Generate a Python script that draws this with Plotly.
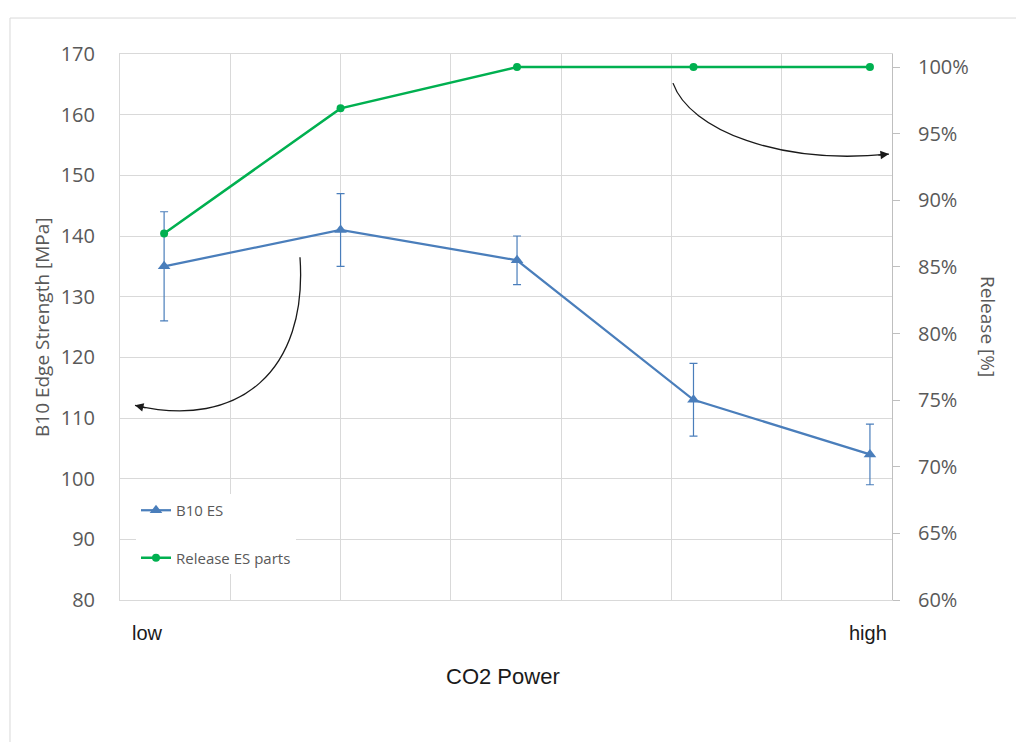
import plotly.graph_objects as go

# ---------------- data ----------------
x_pos = [0.4, 2.0, 3.6, 5.2, 6.8]          # CO2 power settings (low -> high)
b10_es = [135, 141, 136, 113, 104]          # B10 edge strength [MPa]
b10_err = [9, 6, 4, 6, 5]                   # error bar half-length [MPa]
release = [0.875, 0.969, 1.0, 1.0, 1.0]     # release ES parts [fraction]
end_labels = ["low", "high"]
end_label_x = [0.25, 6.78]

left_ticks = list(range(80, 171, 10))
right_ticks = [0.60, 0.65, 0.70, 0.75, 0.80, 0.85, 0.90, 0.95, 1.00]

BLUE = "#4a7ebb"
GREEN = "#00b050"
GRID = "#d9d9d9"
TICKC = "#595959"
FONT = "Open Sans"

fig = go.Figure()

fig.add_trace(go.Scatter(
    x=x_pos, y=b10_es, name="B10 ES", mode="lines+markers",
    line=dict(color=BLUE, width=2.25),
    marker=dict(symbol="triangle-up", size=11, color=BLUE),
    error_y=dict(type="data", array=b10_err, visible=True, color=BLUE,
                 thickness=1.2, width=4),
    legendgroup="a", yaxis="y",
))
fig.add_trace(go.Scatter(
    x=x_pos, y=release, name="Release ES parts", mode="lines+markers",
    line=dict(color=GREEN, width=2.5),
    marker=dict(symbol="circle", size=8, color=GREEN),
    legendgroup="b", yaxis="y2",
))

# curved arrows (decoration), in x / left-y data units
arrow_paths = [
    dict(p=[(1.632, 136.5), (1.704, 117.9), (1.088, 108.0), (0.136, 112.1)], ax=12, ay=3),
    dict(p=[(5.014, 165.2), (5.168, 157.4), (5.984, 151.7), (6.972, 153.5)], ax=-12, ay=1.2),
]
shapes = []
annotations = []
for a in arrow_paths:
    (x0, y0), (x1, y1), (x2, y2), (x3, y3) = a["p"]
    shapes.append(dict(type="path", xref="x", yref="y",
                       path=f"M {x0},{y0} C {x1},{y1} {x2},{y2} {x3},{y3}",
                       line=dict(color="#1a1a1a", width=1.3)))
    annotations.append(dict(x=x3, y=y3, xref="x", yref="y", ax=a["ax"], ay=a["ay"],
                            axref="pixel", ayref="pixel", text="", showarrow=True,
                            arrowhead=2, arrowsize=1.3, arrowwidth=1.3,
                            arrowcolor="#1a1a1a"))

# white background behind legend (covers gridlines)
shapes.append(dict(type="rect", xref="paper", yref="paper",
                   x0=(133 - 120) / 772, x1=(300 - 120) / 772,
                   y0=(600 - 583) / 546, y1=(600 - 480) / 546,
                   fillcolor="white", line=dict(width=0), layer="between"))
# outer chart border
shapes.append(dict(type="rect", xref="paper", yref="paper",
                   x0=-0.1425, x1=1.17, y0=-0.27, y1=1.0659,
                   line=dict(color=GRID, width=1), fillcolor="rgba(0,0,0,0)"))

for lab, xx in zip(end_labels, end_label_x):
    annotations.append(dict(x=xx, y=-0.0604, xref="x", yref="paper", text=lab,
                            showarrow=False, font=dict(family="Liberation Sans", size=20, color="#1a1a1a"),
                            xanchor="center", yanchor="middle"))
annotations.append(dict(x=(503 - 120) / 772, y=(600 - 676) / 546, xref="paper", yref="paper",
                        text="CO2 Power", showarrow=False,
                        font=dict(family="Liberation Sans", size=22, color="#1a1a1a"),
                        xanchor="center", yanchor="middle"))
annotations.append(dict(x=(42 - 120) / 772, y=0.5, xref="paper", yref="paper",
                        text="B10 Edge Strength [MPa]", textangle=-90, showarrow=False,
                        font=dict(family=FONT, size=19, color=TICKC),
                        xanchor="center", yanchor="middle"))
annotations.append(dict(x=(988 - 120) / 772, y=0.502, xref="paper", yref="paper",
                        text="Release [%]", textangle=90, showarrow=False,
                        font=dict(family=FONT, size=19, color=TICKC),
                        xanchor="center", yanchor="middle"))

fig.update_layout(
    width=1016, height=742,
    margin=dict(l=120, r=124, t=54, b=142),
    paper_bgcolor="white", plot_bgcolor="white",
    font=dict(family=FONT, color=TICKC),
    showlegend=True,
    legend=dict(x=(136 - 120) / 772, y=(600 - 494) / 546, xanchor="left", yanchor="top",
                bgcolor="white", font=dict(family=FONT, size=15, color=TICKC),
                tracegroupgap=25, traceorder="grouped", itemwidth=30),
    xaxis=dict(range=[0, 7], dtick=1, tick0=0, showgrid=True, gridcolor=GRID,
               zeroline=False, showticklabels=False, showline=True, linecolor=GRID,
               mirror=True, ticks=""),
    yaxis=dict(range=[80, 170], tickvals=left_ticks, showgrid=True, gridcolor=GRID,
               zeroline=False, showline=True, linecolor=GRID, ticks="",
               tickfont=dict(family=FONT, size=20, color=TICKC), ticklabelstandoff=20),
    yaxis2=dict(range=[0.6, 1.0098], tickvals=right_ticks, tickformat=".0%",
                overlaying="y", side="right", showgrid=False, zeroline=False,
                showline=True, linecolor="#bfbfbf", ticks="outside", ticklen=7,
                tickcolor="#bfbfbf", tickfont=dict(family=FONT, size=20, color=TICKC),
                ticklabelstandoff=14),
    shapes=shapes, annotations=annotations,
)

fig.write_html("out.html", config={"displayModeBar": False},
               post_script="document.body.style.margin='0';")
